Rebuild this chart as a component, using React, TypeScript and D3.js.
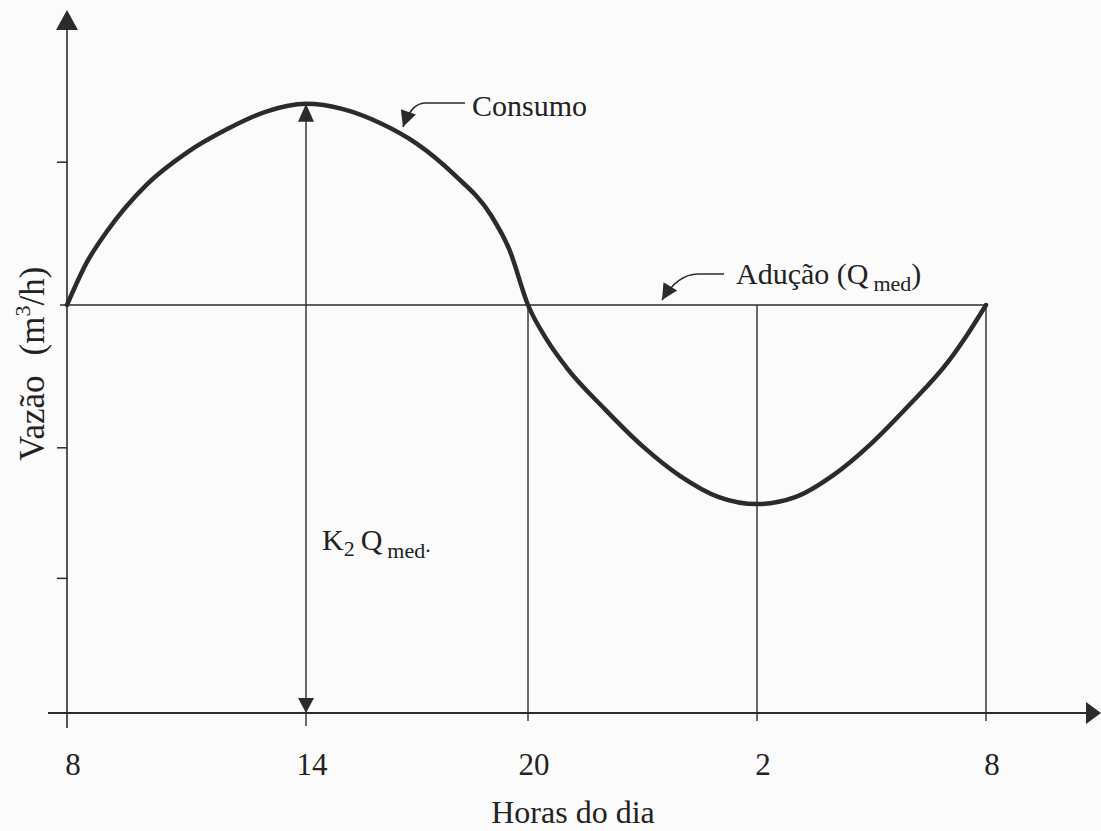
import React from 'react'
import * as d3 from 'd3'

// hours of the day (24 = midnight, so 26 -> 2h, 32 -> 8h next day)
const hours = [8, 8.5, 9, 10, 11, 12, 13, 14, 15, 16, 17, 18, 19, 19.5, 20, 20.5, 21, 22, 23, 24, 25, 26, 27, 28, 29, 30, 31, 31.5, 32]
// consumo, in % of Q med
const consumo = [100, 110.5, 118, 129.5, 137.3, 143, 147.4, 149.3, 148, 144.6, 139.5, 132, 122, 113.5, 100, 91.4, 84.8, 74.6, 65.4, 58, 52.9, 51.2, 52.9, 58.3, 66.1, 75.6, 86, 92.6, 100]
const qMed = 100
const yTicks = [33, 65, 135]
const tickHours = [8, 14, 20, 26, 32]
const tickLabels = ['8', '14', '20', '2', '8']
const peakHour = 14

const W = 1101
const H = 831
const ink = '#2b2b2b'
const font = '"Liberation Serif", "Times New Roman", serif'

const App = () => {
  // hand drawn figure: spacing of the hours is not quite even
  const x = d3.scaleLinear().domain(tickHours).range([67, 306, 528, 757, 986])
  const y = d3.scaleLinear().domain([0, qMed]).range([713, 305])

  const pts: [number, number][] = hours.map((h, i) => [h, consumo[i]])
  const line = d3
    .line<[number, number]>()
    .x(d => x(d[0]))
    .y(d => y(d[1]))
    .curve(d3.curveMonotoneX)

  const x0 = x(8)
  const yBase = y(0)
  const yMed = y(qMed)
  const peak = consumo[hours.indexOf(peakHour)]
  const xp = x(peakHour)

  return (
    <svg width={W} height={H} style={{ position: 'absolute', left: 0, top: 0, background: '#fbfbfb' }}>
      <defs>
        <marker id="lead" viewBox="0 0 10 10" refX="10" refY="5" markerWidth="20" markerHeight="16"
          markerUnits="userSpaceOnUse" orient="auto">
          <path d="M0,0 L10,5 L0,10 z" fill={ink} />
        </marker>
      </defs>

      {/* y axis */}
      <line x1={x0} x2={x0} y1={yBase + 15} y2={22} stroke={ink} strokeWidth={1.6} />
      <path d={`M${x0},10 L${x0 - 11},30 L${x0 + 11},30 z`} fill={ink} />
      {yTicks.map(t => (
        <line key={t} x1={x0 - 10} x2={x0} y1={y(t)} y2={y(t)} stroke={ink} strokeWidth={1.5} />
      ))}

      {/* x axis */}
      <line x1={48} x2={W - 12} y1={yBase} y2={yBase} stroke={ink} strokeWidth={2.2} />
      <path d={`M${W},${yBase} L${W - 15},${yBase - 11} L${W - 15},${yBase + 11} z`} fill={ink} />

      {/* Q med line */}
      <line x1={60} x2={x(32)} y1={yMed} y2={yMed} stroke={ink} strokeWidth={1.6} />

      {/* verticals at 20, 2 and 8 */}
      {tickHours.slice(2).map(h => (
        <line key={h} x1={x(h)} x2={x(h)} y1={yMed} y2={yBase + 8} stroke={ink} strokeWidth={1.4} />
      ))}

      {/* K2 Q med double arrow */}
      <line x1={xp} x2={xp} y1={y(peak) + 14} y2={yBase + 13} stroke={ink} strokeWidth={1.4} />
      <path d={`M${xp},${y(peak)} L${xp - 8},${y(peak) + 18} L${xp + 8},${y(peak) + 18} z`} fill={ink} />
      <path d={`M${xp},${yBase} L${xp - 8},${yBase - 15} L${xp + 8},${yBase - 15} z`} fill={ink} />

      {/* consumo curve */}
      <path d={line(pts) || ''} fill="none" stroke={ink} strokeWidth={4.5} strokeLinecap="round" />

      {/* leaders */}
      <path d="M465,103 H426 C416,103 409,110 403,127" fill="none" stroke={ink} strokeWidth={1.6} markerEnd="url(#lead)" />
      <path d="M724,274 H698 C686,274 673,282 662,300" fill="none" stroke={ink} strokeWidth={1.6} markerEnd="url(#lead)" />

      <g fontFamily={font} fill="#222">
        <text x={472} y={116} fontSize={30}>Consumo</text>
        <text x={736} y={284} fontSize={30}>
          Adução (Q<tspan fontSize={22} dx={5} dy={7}>med</tspan><tspan dy={-7}>)</tspan>
        </text>
        <text x={322} y={550} fontSize={30}>
          K<tspan fontSize={22} dy={6}>2</tspan><tspan dy={-6} dx={6}>Q</tspan><tspan fontSize={22} dx={5} dy={8}>med</tspan><tspan fontSize={22} dy={-6}>.</tspan>
        </text>

        {tickHours.map((h, i) => (
          <text key={i} x={x(h) + 6} y={775} fontSize={31} textAnchor="middle">{tickLabels[i]}</text>
        ))}
        <text x={573} y={823} fontSize={32} textAnchor="middle">Horas do dia</text>
        <text transform="translate(44,461) rotate(-90)" fontSize={35}>
          Vazão<tspan dx={20}>(m</tspan><tspan fontSize={22} dy={-14}>3</tspan><tspan dy={14}>/h)</tspan>
        </text>
      </g>
    </svg>
  )
}

export default App
